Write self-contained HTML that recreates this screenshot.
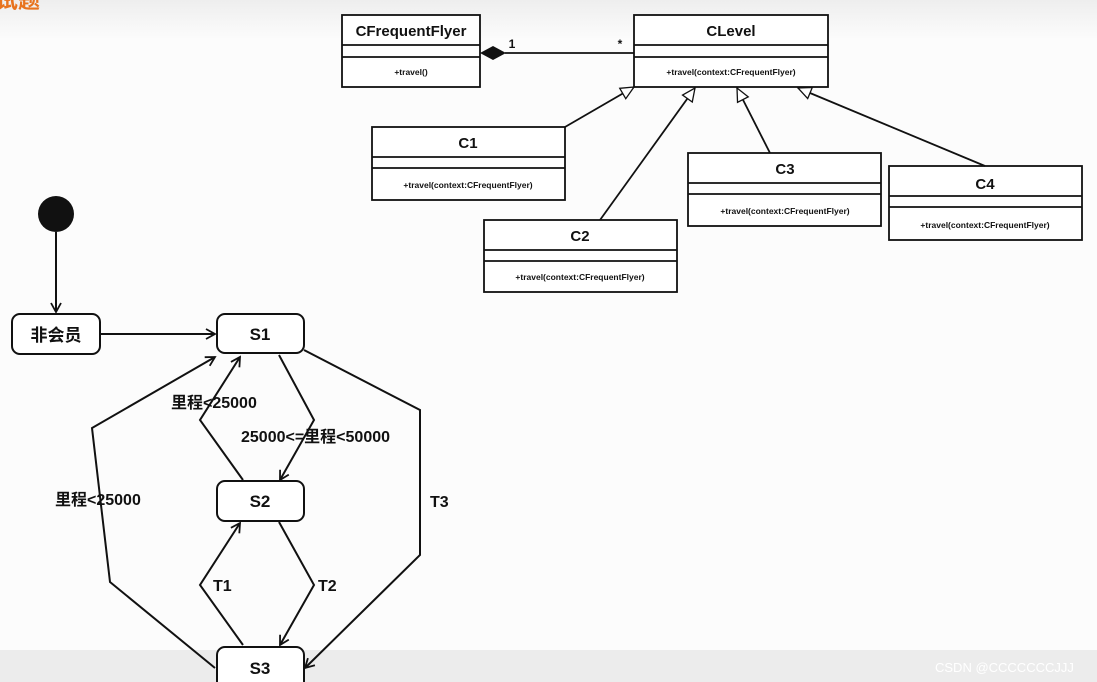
<!DOCTYPE html>
<html><head><meta charset="utf-8"><style>
body{margin:0;width:1097px;height:682px;overflow:hidden;background:#fcfcfc;font-family:"Liberation Sans","Noto Sans CJK SC",sans-serif;}
svg{position:absolute;left:0;top:0}
</style></head><body>
<svg width="1097" height="682" viewBox="0 0 1097 682" xmlns="http://www.w3.org/2000/svg">
<defs>
<linearGradient id="g" x1="0" y1="0" x2="0" y2="1"><stop offset="0" stop-color="#eeeeee"/><stop offset="1" stop-color="#fcfcfc"/></linearGradient>
<marker id="op" markerWidth="12" markerHeight="12" refX="10" refY="6" orient="auto" markerUnits="userSpaceOnUse"><path d="M1,1 L10,6 L1,11" fill="none" stroke="#111" stroke-width="1.8"/></marker>
<marker id="tri" markerWidth="16" markerHeight="16" refX="14" refY="8" orient="auto" markerUnits="userSpaceOnUse"><path d="M1,2 L14,8 L1,14 Z" fill="#fff" stroke="#111" stroke-width="1.3"/></marker>
</defs>
<rect x="0" y="0" width="1097" height="40" fill="url(#g)"/>
<rect x="0" y="650" width="1097" height="32" fill="#ececec"/>
<text x="-4" y="8" font-size="22" font-weight="bold" fill="#e8731e">试题</text>
<g stroke="#111" stroke-width="1.8" fill="#fff">
<rect x="342" y="15" width="138" height="72"/><line x1="342" y1="45" x2="480" y2="45"/><line x1="342" y1="57" x2="480" y2="57"/>
<rect x="634" y="15" width="194" height="72"/><line x1="634" y1="45" x2="828" y2="45"/><line x1="634" y1="57" x2="828" y2="57"/>
<rect x="372" y="127" width="193" height="73"/><line x1="372" y1="157" x2="565" y2="157"/><line x1="372" y1="168" x2="565" y2="168"/>
<rect x="484" y="220" width="193" height="72"/><line x1="484" y1="250" x2="677" y2="250"/><line x1="484" y1="261" x2="677" y2="261"/>
<rect x="688" y="153" width="193" height="73"/><line x1="688" y1="183" x2="881" y2="183"/><line x1="688" y1="194" x2="881" y2="194"/>
<rect x="889" y="166" width="193" height="74"/><line x1="889" y1="196" x2="1082" y2="196"/><line x1="889" y1="207" x2="1082" y2="207"/>
</g>
<g stroke="#111" stroke-width="1.8" fill="none">
<line x1="505" y1="53" x2="634" y2="53"/>
<line x1="565" y1="127" x2="634" y2="87" marker-end="url(#tri)"/>
<line x1="600" y1="220" x2="695" y2="88" marker-end="url(#tri)"/>
<line x1="770" y1="153" x2="737" y2="88" marker-end="url(#tri)"/>
<line x1="985" y1="166" x2="798" y2="88" marker-end="url(#tri)"/>
</g>
<path d="M480,53 L493,46 L506,53 L493,60 Z" fill="#111"/>
<g font-weight="bold" fill="#111" text-anchor="middle">
<text x="411" y="36" font-size="15">CFrequentFlyer</text>
<text x="731" y="36" font-size="15">CLevel</text>
<text x="468" y="148" font-size="15">C1</text>
<text x="580" y="241" font-size="15">C2</text>
<text x="785" y="174" font-size="15">C3</text>
<text x="985" y="189" font-size="15">C4</text>
<g font-size="8.5">
<text x="411" y="75">+travel()</text>
<text x="731" y="75">+travel(context:CFrequentFlyer)</text>
<text x="468" y="188">+travel(context:CFrequentFlyer)</text>
<text x="580" y="280">+travel(context:CFrequentFlyer)</text>
<text x="785" y="214">+travel(context:CFrequentFlyer)</text>
<text x="985" y="228">+travel(context:CFrequentFlyer)</text>
</g>
<text x="512" y="48" font-size="12">1</text>
<text x="620" y="48" font-size="12">*</text>
</g>
<circle cx="56" cy="214" r="18" fill="#111"/>
<g stroke="#111" stroke-width="2" fill="none">
<line x1="56" y1="232" x2="56" y2="312" marker-end="url(#op)"/>
<line x1="100" y1="334" x2="215" y2="334" marker-end="url(#op)"/>
<polyline points="279,355 314,420 280,480" marker-end="url(#op)"/>
<polyline points="243,480 200,420 240,357" marker-end="url(#op)"/>
<polyline points="279,522 314,585 280,645" marker-end="url(#op)"/>
<polyline points="243,645 200,585 240,523" marker-end="url(#op)"/>
<polyline points="215,668 110,582 92,428 215,357" marker-end="url(#op)"/>
<polyline points="304,350 420,410 420,555 305,668" marker-end="url(#op)"/>
</g>
<g stroke="#111" stroke-width="2" fill="#fff">
<rect x="12" y="314" width="88" height="40" rx="8"/>
<rect x="217" y="314" width="87" height="39" rx="8"/>
<rect x="217" y="481" width="87" height="40" rx="8"/>
<rect x="217" y="647" width="87" height="45" rx="8"/>
</g>
<g font-weight="bold" fill="#111" font-size="17" text-anchor="middle">
<text x="56" y="341">非会员</text>
<text x="260" y="340">S1</text>
<text x="260" y="507">S2</text>
<text x="260" y="674">S3</text>
</g>
<g fill="#111" font-size="16" font-weight="bold">
<text x="171" y="408">里程&lt;25000</text>
<text x="241" y="442">25000&lt;=里程&lt;50000</text>
<text x="55" y="505">里程&lt;25000</text>
<text x="213" y="591">T1</text>
<text x="318" y="591">T2</text>
<text x="430" y="507">T3</text>
</g>
<text x="935" y="672" font-size="13" fill="#fff">CSDN @CCCCCCCJJJ</text>
</svg>
</body></html>
